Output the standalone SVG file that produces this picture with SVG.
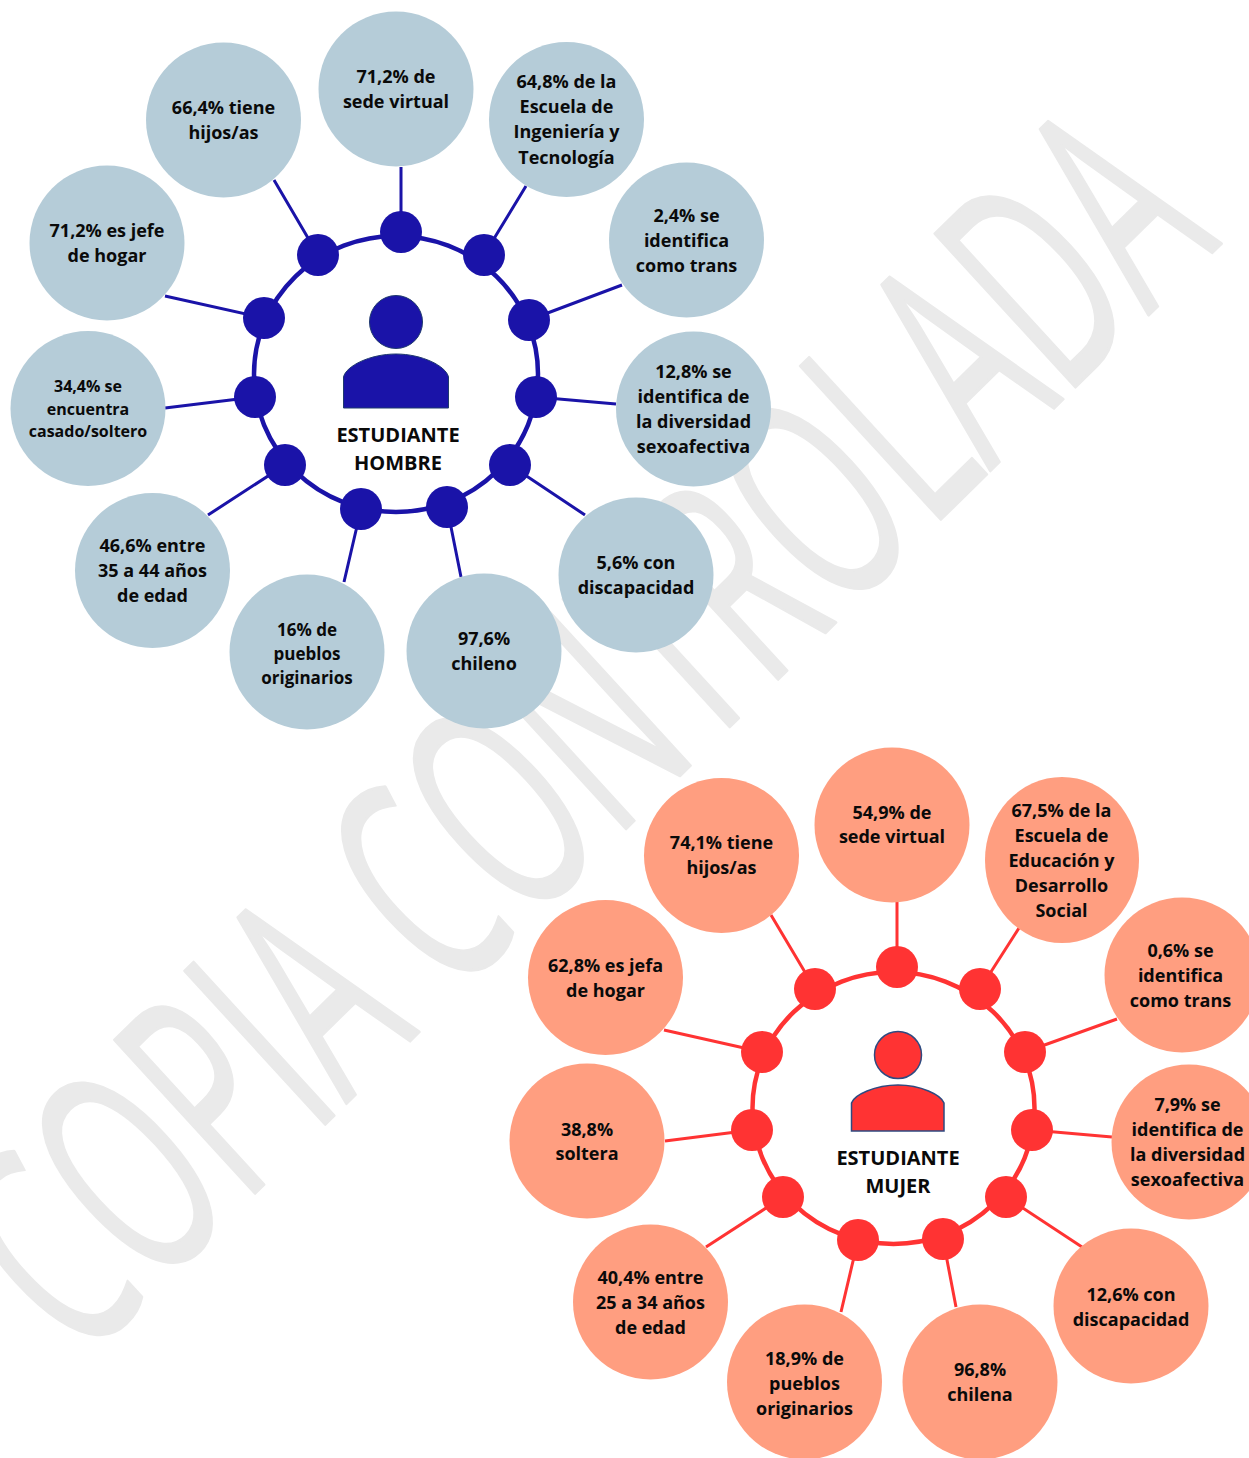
<svg xmlns="http://www.w3.org/2000/svg" width="1249" height="1458" viewBox="0 0 1249 1458">
<style>
text{font-family:"Open Sans","Noto Sans","Liberation Sans",sans-serif;font-weight:700;fill:#0a0a0a;text-anchor:middle}
.l{font-size:18px}.m{font-size:17px}.s{font-size:16px}.t{font-size:20px}
.wm{font-size:291px;font-weight:400;fill:#eaeaea;stroke:#eaeaea;stroke-width:3;stroke-linejoin:round;text-anchor:end}
.bb{fill:#b5ccd8}.rb{fill:#ff9e80}
.bh{fill:#1a13a8}.rh{fill:#ff3333}
.bl{stroke:#1a13a8;stroke-width:3;fill:none}.rl{stroke:#ff3333;stroke-width:3;fill:none}
.br{stroke:#1a13a8;stroke-width:4.5;fill:none}.rr{stroke:#ff3333;stroke-width:4.5;fill:none}
.bp{fill:#1a13a8;stroke:#1f3a6e;stroke-width:1}.rp{fill:#ff3333;stroke:#2f4a80;stroke-width:1.5}
</style>
<text class="wm" transform="translate(1222,243) rotate(-44.5) skewX(-2) scale(.562,1)">COPIA CONTROLADA</text>
<g id="connectors">
<ellipse class="br" cx="396" cy="374" rx="142" ry="138"/>
<path class="bl" d="M401 167V232M274 180L318 255M526 186L484 255M165 296L264 318M622 285L529 320M165 408L255 397M616 404L536 397M208 515L285 465M585 515L510 465M344 582L361 509M461 577L447 507"/>
<ellipse class="rr" cx="893.500" cy="1108" rx="141" ry="136"/>
<path class="rl" d="M897 900V967M771 915L815 989M1019 928L980 989M664 1030L762 1052M1117 1019L1025 1052M665 1141L752 1130M1112 1137L1032 1130M706 1247L783 1197M1082 1247L1006 1197M841 1312L858 1240M956 1307L943 1239"/>
</g>
<g id="hombre-hubs" class="bh">
<circle cx="401" cy="232" r="21"/><circle cx="318" cy="255" r="21"/><circle cx="484" cy="255" r="21"/><circle cx="264" cy="318" r="21"/><circle cx="529" cy="320" r="21"/><circle cx="255" cy="397" r="21"/><circle cx="536" cy="397" r="21"/><circle cx="285" cy="465" r="21"/><circle cx="510" cy="465" r="21"/><circle cx="361" cy="509" r="21"/><circle cx="447" cy="507" r="21"/>
</g>
<g id="mujer-hubs" class="rh">
<circle cx="897" cy="967" r="21"/><circle cx="815" cy="989" r="21"/><circle cx="980" cy="989" r="21"/><circle cx="762" cy="1052" r="21"/><circle cx="1025" cy="1052" r="21"/><circle cx="752" cy="1130" r="21"/><circle cx="1032" cy="1130" r="21"/><circle cx="783" cy="1197" r="21"/><circle cx="1006" cy="1197" r="21"/><circle cx="858" cy="1240" r="21"/><circle cx="943" cy="1239" r="21"/>
</g>
<g id="hombre-center">
<circle class="bp" cx="396" cy="322" r="26.500"/>
<path class="bp" d="M343.500 408V377C346 366 370 354 396 354S446 366 448.500 377V408Z"/>
<text class="t" x="398" y="442">ESTUDIANTE</text><text class="t" x="398" y="470">HOMBRE</text>
</g>
<g id="mujer-center">
<circle class="rp" cx="898" cy="1055" r="23.500"/>
<path class="rp" d="M851.500 1131V1103C854 1095 875 1085 898 1085S941 1095 944 1103V1131Z"/>
<text class="t" x="898" y="1165">ESTUDIANTE</text><text class="t" x="898" y="1193">MUJER</text>
</g>
<g id="h1"><circle class="bb" cx="396" cy="89" r="77.500"/><text class="l" x="396" y="83">71,2% de</text><text class="l" x="396" y="108">sede virtual</text></g>
<g id="h2"><circle class="bb" cx="223.500" cy="120" r="77.500"/><text class="l" x="223.500" y="114">66,4% tiene</text><text class="l" x="223.500" y="139">hijos/as</text></g>
<g id="h3"><circle class="bb" cx="566.500" cy="119.500" r="77.500"/><text class="l" x="566.500" y="88">64,8% de la</text><text class="l" x="566.500" y="113">Escuela de</text><text class="l" x="566.500" y="138">Ingeniería y</text><text class="l" x="566.500" y="163.500">Tecnología</text></g>
<g id="h4"><circle class="bb" cx="107" cy="243" r="77.500"/><text class="l" x="107" y="237">71,2% es jefe</text><text class="l" x="107" y="262">de hogar</text></g>
<g id="h5"><circle class="bb" cx="686.500" cy="240" r="77.500"/><text class="l" x="686.500" y="222">2,4% se</text><text class="l" x="686.500" y="247">identifica</text><text class="l" x="686.500" y="272">como trans</text></g>
<g id="h6"><circle class="bb" cx="88" cy="408.500" r="77.500"/><text class="s" x="88" y="392">34,4% se</text><text class="s" x="88" y="414.500">encuentra</text><text class="s" x="88" y="436.500">casado/soltero</text></g>
<g id="h7"><circle class="bb" cx="693.500" cy="409" r="77.500"/><text class="l" x="693.500" y="378">12,8% se</text><text class="l" x="693.500" y="403">identifica de</text><text class="l" x="693.500" y="428">la diversidad</text><text class="l" x="693.500" y="453">sexoafectiva</text></g>
<g id="h8"><circle class="bb" cx="152.500" cy="570.500" r="77.500"/><text class="l" x="152.500" y="552">46,6% entre</text><text class="l" x="152.500" y="577">35 a 44 años</text><text class="l" x="152.500" y="602">de edad</text></g>
<g id="h9"><circle class="bb" cx="636" cy="575" r="77.500"/><text class="l" x="636" y="569">5,6% con</text><text class="l" x="636" y="594">discapacidad</text></g>
<g id="h10"><circle class="bb" cx="307" cy="652" r="77.500"/><text class="m" x="307" y="636">16% de</text><text class="m" x="307" y="660">pueblos</text><text class="m" x="307" y="684">originarios</text></g>
<g id="h11"><circle class="bb" cx="484" cy="651" r="77.500"/><text class="l" x="484" y="645">97,6%</text><text class="l" x="484" y="670">chileno</text></g>
<g id="m1"><circle class="rb" cx="892" cy="825" r="77.500"/><text class="l" x="892" y="818.500">54,9% de</text><text class="l" x="892" y="843">sede virtual</text></g>
<g id="m2"><circle class="rb" cx="721.500" cy="855.500" r="77.500"/><text class="l" x="721.500" y="849">74,1% tiene</text><text class="l" x="721.500" y="874">hijos/as</text></g>
<g id="m3"><ellipse class="rb" cx="1062" cy="860" rx="77" ry="83"/><text class="l" x="1061.500" y="817">67,5% de la</text><text class="l" x="1061.500" y="842">Escuela de</text><text class="l" x="1061.500" y="867">Educación y</text><text class="l" x="1061.500" y="892">Desarrollo</text><text class="l" x="1061.500" y="916.500">Social</text></g>
<g id="m4"><circle class="rb" cx="605.500" cy="977.500" r="77.500"/><text class="l" x="605.500" y="972">62,8% es jefa</text><text class="l" x="605.500" y="997">de hogar</text></g>
<g id="m5"><circle class="rb" cx="1182" cy="975" r="77.500"/><text class="l" x="1180.500" y="956.500">0,6% se</text><text class="l" x="1180.500" y="981.500">identifica</text><text class="l" x="1180.500" y="1006.500">como trans</text></g>
<g id="m6"><circle class="rb" cx="587" cy="1141" r="77.500"/><text class="l" x="587" y="1135.500">38,8%</text><text class="l" x="587" y="1160">soltera</text></g>
<g id="m7"><circle class="rb" cx="1189" cy="1142" r="77.500"/><text class="l" x="1187.500" y="1111">7,9% se</text><text class="l" x="1187.500" y="1136">identifica de</text><text class="l" x="1187.500" y="1161">la diversidad</text><text class="l" x="1187.500" y="1186">sexoafectiva</text></g>
<g id="m8"><circle class="rb" cx="650.500" cy="1302" r="77.500"/><text class="l" x="650.500" y="1283.500">40,4% entre</text><text class="l" x="650.500" y="1308.500">25 a 34 años</text><text class="l" x="650.500" y="1333.500">de edad</text></g>
<g id="m9"><circle class="rb" cx="1131" cy="1306" r="77.500"/><text class="l" x="1131" y="1300.500">12,6% con</text><text class="l" x="1131" y="1325.500">discapacidad</text></g>
<g id="m10"><circle class="rb" cx="804.500" cy="1382" r="77.500"/><text class="l" x="804.500" y="1365">18,9% de</text><text class="l" x="804.500" y="1390">pueblos</text><text class="l" x="804.500" y="1415">originarios</text></g>
<g id="m11"><circle class="rb" cx="980" cy="1382" r="77.500"/><text class="l" x="980" y="1376">96,8%</text><text class="l" x="980" y="1401">chilena</text></g>
</svg>
